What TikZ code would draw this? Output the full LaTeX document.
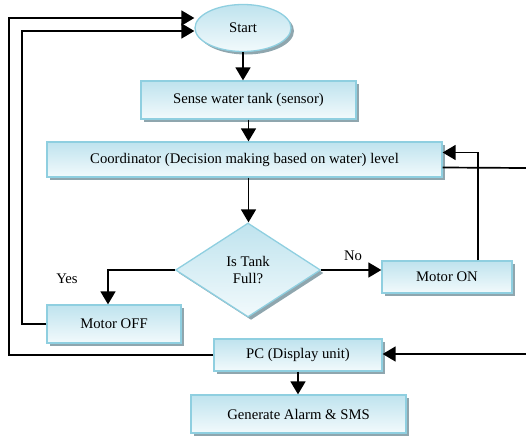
\documentclass[tikz,border=0pt]{standalone}
\usepackage{fontspec}
\setmainfont{Liberation Serif}
\usetikzlibrary{shapes.geometric,shadows,arrows.meta}
\definecolor{bordc}{HTML}{8FCFE0}
\definecolor{topc}{HTML}{BFE3EE}
\definecolor{botc}{HTML}{F2FAFC}
\definecolor{shadc}{HTML}{8FA6AE}
\tikzset{
  box/.style={draw=bordc, line width=1.3pt, top color=topc, bottom color=botc,
    drop shadow={shadow xshift=3pt, shadow yshift=-3pt, fill=shadc, opacity=1},
    inner sep=0pt, font=\fontsize{14.7}{17}\selectfont},
  arr/.style={line width=1.7pt, -{Triangle[length=13pt,width=15pt]}},
  ln/.style={line width=1.7pt},
  lbl/.style={font=\fontsize{14.7}{17}\selectfont, inner sep=0pt}
}
\begin{document}
\begin{tikzpicture}[x=1pt,y=-1pt]
\useasboundingbox (0,0) rectangle (526,436);
\node[box, ellipse, minimum width=96pt, minimum height=47pt] (start) at (243,28) {Start};
\node[box, minimum width=215pt, minimum height=38pt] (sense) at (248.5,100) {Sense water tank (sensor)};
\node[box, minimum width=395pt, minimum height=35pt] (coord) at (244.5,159.5) {Coordinator (Decision making based on water) level};
\node[box, diamond, aspect=1.54, minimum width=145pt, minimum height=94pt, align=center] (diam) at (248,270) {Is Tank\\Full?};
\node[box, minimum width=130pt, minimum height=32pt] (on) at (447,277) {Motor ON};
\node[box, minimum width=134pt, minimum height=38pt] (off) at (114,324) {Motor OFF};
\node[box, minimum width=168pt, minimum height=32pt] (pc) at (298,355) {PC (Display unit)};
\node[box, minimum width=215pt, minimum height=38pt] (gen) at (298.5,414) {Generate Alarm \& SMS};
\node[lbl] (yes) at (67,279) {Yes};
\node[lbl] (no) at (353,256) {No};
\coordinate (r1) at (526,168);
\coordinate (r2) at (526,354);
\coordinate (l1) at (9,18);
\coordinate (l2) at (22,31);
% main flow
\draw[arr] (start.south) -- (start.south |- sense.north);
\draw[arr] (sense.south) -- (sense.south |- coord.north);
\draw[arr] ([xshift=4pt]coord.south) -- ([xshift=4pt]coord.south |- diam.north);
\draw[arr] (diam.east) -- (diam.east -| on.west);
\draw[arr] (diam.west) -| ([xshift=-6pt]off.north);
\draw[arr] ([xshift=31pt]on.north) |- ([yshift=7pt]coord.east);
\draw[ln] ([yshift=-8pt]coord.east) -- (r1);
\draw[arr] (r2) -- (r2 -| pc.east);
\draw[arr] (pc.south) -- (pc.south |- gen.north);
% loops back to start
\draw[arr] (pc.west) -| (l1) -- ([yshift=10pt]start.west);
\draw[arr] (off.west) -| (l2) -- ([yshift=-3pt]start.west);
\end{tikzpicture}
\end{document}
